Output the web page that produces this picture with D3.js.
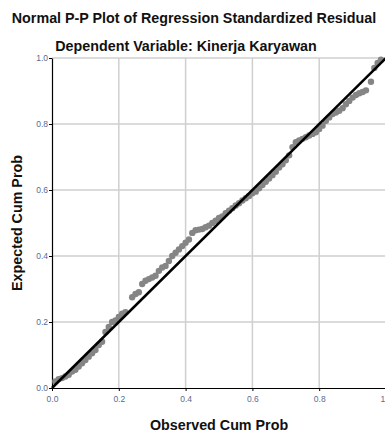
<!DOCTYPE html>
<html>
<head>
<meta charset="utf-8">
<script src="https://cdn.jsdelivr.net/npm/d3@7"></script>
<style>
  body { margin: 0; background: #fff; }
  svg { display: block; }
  .tick text { font-family: 'Liberation Sans', Arial, sans-serif; font-size: 8.5px; fill: #5b6b8c; }
  .lbl { font-family: 'Liberation Sans', Arial, sans-serif; font-weight: bold; fill: #111; }
</style>
</head>
<body>
<div id="chart"></div>
<script>
// observed cum prob (x) and expected cum prob (y)
const observed = [0.01, 0.02, 0.03, 0.04, 0.05, 0.06, 0.07, 0.08, 0.09, 0.10,
  0.11, 0.12, 0.13, 0.14, 0.15, 0.16, 0.17, 0.18, 0.19, 0.20,
  0.21, 0.22, 0.24, 0.25, 0.26, 0.27, 0.28, 0.29, 0.30, 0.31,
  0.32, 0.33, 0.34, 0.35, 0.36, 0.37, 0.38, 0.39, 0.40, 0.41,
  0.42, 0.43, 0.44, 0.45, 0.46, 0.47, 0.48, 0.49, 0.50, 0.51,
  0.52, 0.53, 0.54, 0.55, 0.56, 0.57, 0.58, 0.59, 0.60, 0.61,
  0.62, 0.63, 0.64, 0.65, 0.66, 0.67, 0.68, 0.69, 0.70, 0.71,
  0.72, 0.73, 0.74, 0.75, 0.76, 0.77, 0.78, 0.79, 0.80, 0.81,
  0.82, 0.83, 0.84, 0.85, 0.86, 0.87, 0.88, 0.89, 0.90, 0.91,
  0.92, 0.93, 0.94, 0.955, 0.965, 0.975, 0.985];
const expected = [0.02, 0.027, 0.03, 0.035, 0.04, 0.05, 0.055, 0.065, 0.075, 0.085,
  0.095, 0.105, 0.115, 0.13, 0.14, 0.17, 0.185, 0.2, 0.205, 0.215,
  0.225, 0.23, 0.275, 0.285, 0.29, 0.315, 0.325, 0.33, 0.335, 0.34,
  0.355, 0.365, 0.37, 0.385, 0.40, 0.41, 0.42, 0.43, 0.44, 0.45,
  0.47, 0.478, 0.48, 0.482, 0.487, 0.492, 0.50, 0.507, 0.515, 0.52,
  0.53, 0.537, 0.545, 0.553, 0.56, 0.568, 0.575, 0.582, 0.59, 0.595,
  0.605, 0.615, 0.625, 0.635, 0.645, 0.655, 0.668, 0.678, 0.69, 0.705,
  0.73, 0.745, 0.75, 0.755, 0.76, 0.765, 0.77, 0.775, 0.785, 0.795,
  0.81, 0.82, 0.83, 0.835, 0.84, 0.848, 0.86, 0.87, 0.88, 0.888,
  0.893, 0.897, 0.902, 0.928, 0.97, 0.985, 0.995];
const tickValues = [0.0, 0.2, 0.4, 0.6, 0.8, 1.0];

const W = 385, H = 432;
const padLeft = 52, padRight = 386, padTop = 58, padBottom = 388;

const svg = d3.select('#chart').append('svg')
  .attr('width', W)
  .attr('height', H);

const x = d3.scaleLinear().domain([0, 1]).range([padLeft, padRight]);
const y = d3.scaleLinear().domain([0, 1]).range([padBottom, padTop]);

// grid
const grid = svg.append('g').attr('class', 'grid');
grid.selectAll('line.gx')
  .data(tickValues.slice(1))
  .enter().append('line')
  .attr('x1', d => x(d)).attr('x2', d => x(d))
  .attr('y1', padTop).attr('y2', padBottom)
  .style('stroke', '#cfcfcf').style('stroke-width', 1.5);
grid.selectAll('line.gy')
  .data(tickValues.slice(1))
  .enter().append('line')
  .attr('x1', padLeft).attr('x2', padRight)
  .attr('y1', d => y(d)).attr('y2', d => y(d))
  .style('stroke', '#cfcfcf').style('stroke-width', 1.5);

// axes
const fmt = d3.format('.1f');
const gx = svg.append('g')
  .attr('transform', 'translate(0,' + padBottom + ')')
  .call(d3.axisBottom(x).tickValues(tickValues).tickFormat(fmt).tickSize(3).tickSizeOuter(0));
const gy = svg.append('g')
  .attr('transform', 'translate(' + padLeft + ',0)')
  .call(d3.axisLeft(y).tickValues(tickValues).tickFormat(fmt).tickSize(3).tickSizeOuter(0));
gx.select('.domain').style('stroke', '#000').style('stroke-width', 1.2);
gy.select('.domain').style('stroke', '#000').style('stroke-width', 1.2);
gx.selectAll('.tick line').style('stroke', '#000');
gy.selectAll('.tick line').style('stroke', '#000');
gx.selectAll('.tick text').attr('dy', '0.9em');
gy.selectAll('.tick text').attr('x', -4);

// points
svg.append('g').selectAll('circle')
  .data(observed.map((d, i) => ({x: d, y: expected[i]})))
  .enter().append('circle')
  .attr('cx', d => x(d.x))
  .attr('cy', d => y(d.y))
  .attr('r', 3.2)
  .style('fill', '#858585');

// reference line
svg.append('line')
  .attr('x1', x(0)).attr('y1', y(0))
  .attr('x2', x(1)).attr('y2', y(1))
  .style('stroke', '#000')
  .style('stroke-width', 2.6);

// titles
svg.append('text').attr('class', 'lbl')
  .attr('x', 194).attr('y', 23)
  .attr('text-anchor', 'middle')
  .style('font-size', '14.3px')
  .text('Normal P-P Plot of Regression Standardized Residual');
svg.append('text').attr('class', 'lbl')
  .attr('x', 186).attr('y', 51)
  .attr('text-anchor', 'middle')
  .style('font-size', '14.3px')
  .text('Dependent Variable: Kinerja Karyawan');
svg.append('text').attr('class', 'lbl')
  .attr('x', 219).attr('y', 430)
  .attr('text-anchor', 'middle')
  .style('font-size', '14.3px')
  .text('Observed Cum Prob');
svg.append('text').attr('class', 'lbl')
  .attr('transform', 'translate(22,223) rotate(-90)')
  .attr('text-anchor', 'middle')
  .style('font-size', '14.3px')
  .text('Expected Cum Prob');
</script>
</body>
</html>
